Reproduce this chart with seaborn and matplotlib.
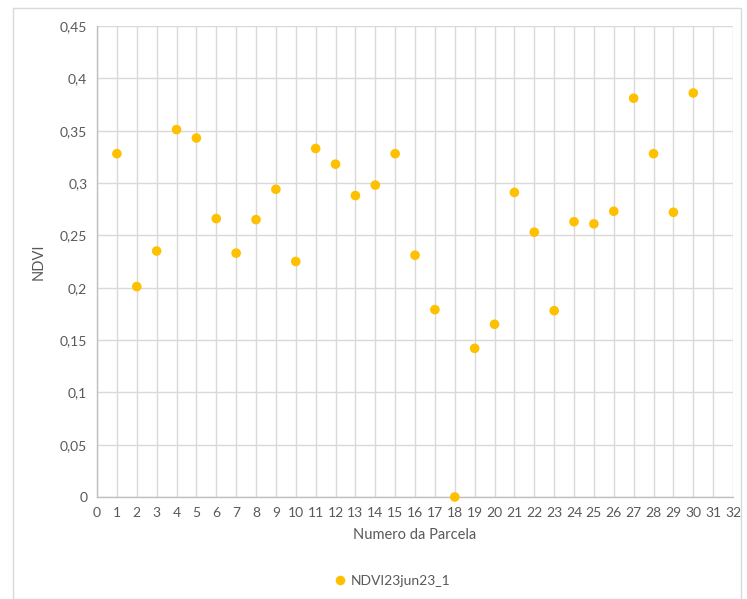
import numpy as np
import pandas as pd
import seaborn as sns
import matplotlib.pyplot as plt
from matplotlib.ticker import FuncFormatter, MultipleLocator
from matplotlib.patches import Rectangle

# NDVI per parcela (23 jun 23)
parcela = list(range(1, 31))
ndvi = [0.328, 0.201, 0.235, 0.351, 0.343, 0.266, 0.233, 0.265, 0.294, 0.225,
        0.333, 0.318, 0.288, 0.298, 0.328, 0.231, 0.179, 0.000, 0.142, 0.165,
        0.291, 0.253, 0.178, 0.263, 0.261, 0.273, 0.381, 0.328, 0.272, 0.386]
serie = 'NDVI23jun23_1'

df = pd.DataFrame({'Parcela': parcela, 'NDVI': ndvi, 'serie': serie})

sns.set_style('whitegrid')
plt.rcParams['font.family'] = ['Lato', 'DejaVu Sans']

fig = plt.figure(figsize=(7.47, 5.99), dpi=100)
ax = fig.add_axes([0.1299, 0.1703, 0.8514, 0.7863])

sns.scatterplot(data=df, x='Parcela', y='NDVI', hue='serie', palette=['#FFC000'],
                s=48, edgecolor='none', ax=ax, zorder=3, clip_on=False)

ax.set_xlim(0, 32)
ax.set_ylim(0, 0.45)
ax.xaxis.set_major_locator(MultipleLocator(1))
ax.yaxis.set_major_locator(MultipleLocator(0.05))
ax.yaxis.set_major_formatter(FuncFormatter(lambda v, p: ('%g' % round(v, 2)).replace('.', ',')))

ax.grid(True, color='#D9D9D9', linewidth=1)
for s in ['top', 'right']:
    ax.spines[s].set_visible(False)
for s in ['left', 'bottom']:
    ax.spines[s].set_color('#BFBFBF')
    ax.spines[s].set_linewidth(1)
ax.tick_params(length=0, labelsize=10, colors='#595959', pad=7)

ax.set_xlabel('Numero da Parcela', fontsize=10.5, color='#595959', labelpad=7)
ax.set_ylabel('NDVI', fontsize=10.5, color='#595959', labelpad=10)

ax.legend_.remove()
handles, labels = ax.get_legend_handles_labels()
fig.legend(handles, labels, loc='center', bbox_to_anchor=(0.52, 0.03), frameon=False,
           fontsize=10, labelcolor='#595959', handletextpad=-0.2, markerscale=1.0)

fig.patches.append(Rectangle((13 / 747, 0), 1 - 19 / 747, 1 - 8 / 599, transform=fig.transFigure,
                             fill=False, edgecolor='#D9D9D9', linewidth=1))

fig.savefig('out.png', dpi=100, facecolor='white')
